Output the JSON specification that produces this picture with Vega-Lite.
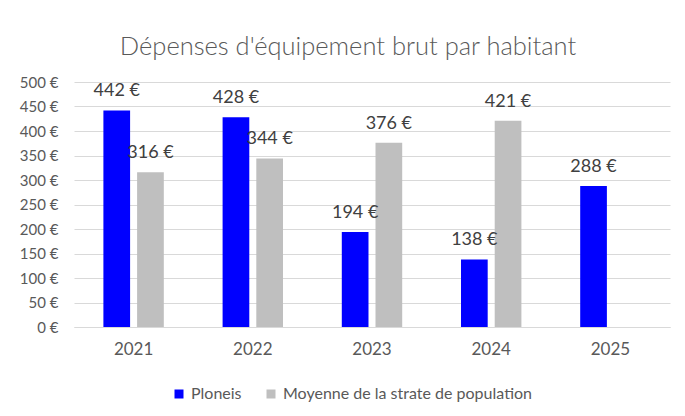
{
  "$schema": "https://vega.github.io/schema/vega-lite/v6.json",
  "width": 596,
  "height": 245,
  "autosize": {"type": "none"},
  "padding": {"left": 74, "top": 82, "right": 15, "bottom": 89},
  "background": "white",
  "config": {
    "view": {"stroke": null},
    "font": "Lato",
    "locale": {
      "number": {"decimal": ",", "thousands": " ", "grouping": [3], "currency": ["", " €"]}
    }
  },
  "title": {
    "text": "Dépenses d'équipement brut par habitant",
    "fontSize": 25.5,
    "font": "Lato",
    "fontWeight": 300,
    "color": "#595959",
    "anchor": "middle",
    "dx": -24,
    "offset": 15
  },
  "data": {
    "values": [
      {"year": "2021", "series": "Ploneis", "value": 442},
      {"year": "2021", "series": "Moyenne de la strate de population", "value": 316},
      {"year": "2022", "series": "Ploneis", "value": 428},
      {"year": "2022", "series": "Moyenne de la strate de population", "value": 344},
      {"year": "2023", "series": "Ploneis", "value": 194},
      {"year": "2023", "series": "Moyenne de la strate de population", "value": 376},
      {"year": "2024", "series": "Ploneis", "value": 138},
      {"year": "2024", "series": "Moyenne de la strate de population", "value": 421},
      {"year": "2025", "series": "Ploneis", "value": 288}
    ]
  },
  "encoding": {
    "x": {
      "field": "year",
      "type": "nominal",
      "scale": {"paddingInner": 0, "paddingOuter": 0},
      "axis": {
        "title": null,
        "labelAngle": 0,
        "labelFontSize": 17,
        "labelColor": "#595959",
        "labelPadding": 14,
        "ticks": false,
        "domainColor": "#D9D9D9",
        "domainWidth": 1
      }
    },
    "xOffset": {
      "field": "series",
      "scale": {
        "domain": ["Ploneis", "Moyenne de la strate de population"],
        "paddingInner": 0.208,
        "paddingOuter": 0.872
      }
    },
    "y": {
      "field": "value",
      "type": "quantitative",
      "scale": {"domain": [0, 500]},
      "axis": {
        "title": null,
        "values": [0, 50, 100, 150, 200, 250, 300, 350, 400, 450, 500],
        "labelExpr": "datum.label + ' €'",
        "labelFontSize": 15,
        "labelColor": "#595959",
        "labelPadding": 16,
        "ticks": false,
        "domain": false,
        "grid": true,
        "gridColor": "#D9D9D9"
      }
    }
  },
  "layer": [
    {
      "mark": {"type": "bar"},
      "encoding": {
        "color": {
          "field": "series",
          "type": "nominal",
          "scale": {
            "domain": ["Ploneis", "Moyenne de la strate de population"],
            "range": ["#0000FF", "#BFBFBF"]
          },
          "legend": {
            "title": null,
            "orient": "none",
            "legendX": 97,
            "legendY": 304,
            "direction": "horizontal",
            "symbolType": "square",
            "symbolSize": 81,
            "symbolStrokeWidth": 0,
            "labelFontSize": 16,
            "labelColor": "#595959",
            "labelOffset": 4,
            "labelLimit": 400,
            "columnPadding": 21
          }
        }
      }
    },
    {
      "mark": {
        "type": "text",
        "baseline": "alphabetic",
        "dy": -14,
        "fontSize": 18,
        "color": "#404040"
      },
      "encoding": {
        "text": {"field": "value", "type": "quantitative", "format": "$d"}
      }
    }
  ]
}
